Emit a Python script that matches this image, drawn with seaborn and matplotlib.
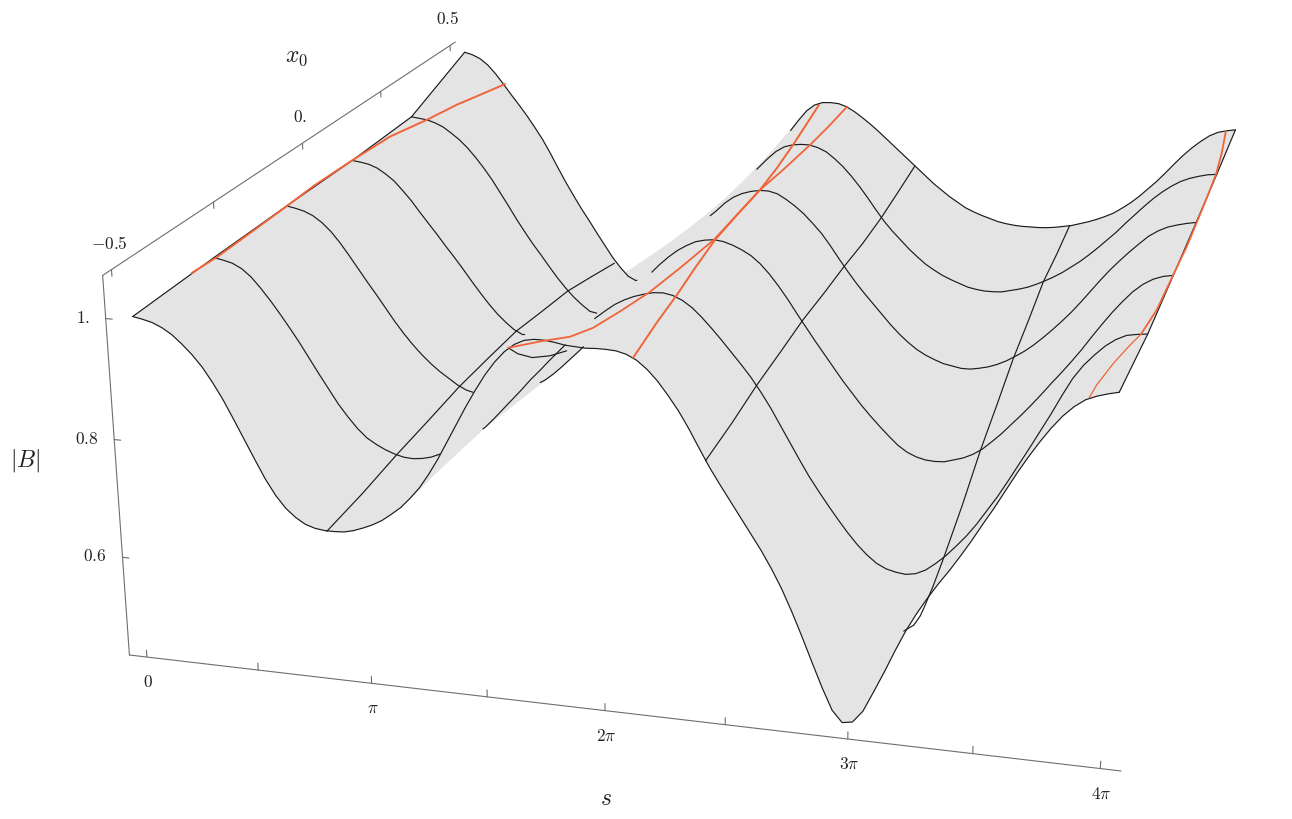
import numpy as np
import matplotlib
matplotlib.use('Agg')
import matplotlib.pyplot as plt
from mpl_toolkits.mplot3d import proj3d
import seaborn as sns

x0_mesh = [-0.5, -0.3, -0.1, 0.1, 0.3, 0.5]
s_grid = np.arange(97) * np.pi / 24
b_m05 = [596, 593, 589, 582, 572, 558, 542, 523, 499, 472, 441, 409, 377, 346, 320, 300, 286, 276, 271, 269, 269, 270, 274, 280, 287, 296, 308, 321, 338, 357, 381, 408, 438,
         468, 498, 526, 552, 574, 592, 605, 613, 616, 616, 614, 611, 610, 609, 610, 610, 609, 605, 597, 584, 567, 546, 523, 496, 466, 437, 411, 386, 361, 336, 311, 283, 252,
         216, 177, 136, 96, 60, 41, 44, 64, 98, 133, 170, 205, 235, 262, 287, 310, 335, 361, 389, 416, 445, 474, 501, 526, 549, 569, 585, 597, 604, 609, 613]
b_m03 = [599, 596, 592, 584, 571, 553, 533, 511, 488, 464, 438, 412, 387, 362, 341, 322, 307, 297, 289, 283, 279, 278, 280, 284, 291, 300, 311, 322, 333, 346, 363, 381, 399,
         417, 436, 453, 471, 488, 505, 520, 536, 551, 564, 576, 585, 592, 597, 601, 602, 599, 592, 581, 566, 549, 531, 512, 493, 473, 450, 425, 397, 369, 341, 314, 290, 267,
         245, 224, 205, 189, 176, 168, 164, 162, 165, 173, 186, 201, 219, 238, 260, 285, 310, 338, 367, 396, 426, 456, 488, 518, 541, 559, 575, 587, 595, 598, 600]
b_m01 = [600, 597, 593, 586, 575, 560, 541, 519, 496, 473, 451, 428, 405, 384, 365, 348, 333, 320, 309, 298, 290, 286, 288, 292, 295, 299, 303, 306, 312, 321, 334, 349, 365,
         381, 398, 417, 436, 455, 474, 493, 512, 530, 547, 562, 575, 585, 593, 597, 599, 597, 592, 585, 576, 563, 546, 526, 504, 480, 457, 434, 412, 390, 368, 348, 328, 310,
         293, 277, 262, 251, 244, 240, 239, 240, 245, 250, 258, 269, 284, 300, 318, 336, 355, 375, 396, 416, 437, 459, 483, 506, 528, 548, 566, 580, 590, 596, 599]
b_p01 = [599, 597, 594, 588, 578, 566, 549, 531, 510, 490, 470, 449, 429, 408, 386, 365, 345, 327, 312, 299, 291, 293, 303, 315, 327, 338, 350, 362, 374, 386, 398, 410, 422,
         433, 445, 457, 469, 481, 493, 505, 516, 528, 541, 555, 571, 583, 591, 596, 599, 599, 595, 586, 575, 562, 546, 529, 508, 485, 463, 442, 423, 405, 387, 369, 353, 339,
         327, 318, 311, 305, 302, 299, 299, 302, 306, 312, 320, 330, 341, 354, 369, 385, 402, 420, 440, 461, 482, 502, 520, 537, 553, 568, 579, 587, 592, 596, 599]
b_p03 = [603, 601, 599, 594, 587, 576, 564, 549, 531, 511, 489, 464, 439, 413, 389, 366, 345, 323, 302, 283, 266, 252, 240, 237, 247, 263, 279, 295, 311, 327, 343, 359, 375,
         391, 407, 423, 439, 455, 471, 487, 503, 520, 536, 553, 570, 585, 595, 600, 602, 602, 598, 591, 579, 565, 548, 529, 508, 486, 465, 447, 431, 415, 401, 388, 378, 369,
         362, 356, 350, 347, 345, 345, 346, 350, 354, 359, 366, 374, 383, 393, 405, 417, 431, 446, 462, 478, 496, 513, 530, 546, 560, 572, 582, 589, 594, 598, 600]
b_p05 = [658, 654, 647, 635, 618, 598, 577, 557, 536, 513, 489, 461, 431, 402, 375, 349, 325, 300, 276, 252, 232, 215, 207, 213, 228, 244, 260, 276, 292, 308, 324, 341, 358,
         375, 393, 410, 428, 445, 464, 482, 501, 521, 542, 564, 584, 597, 603, 604, 603, 598, 589, 578, 566, 553, 539, 525, 511, 497, 483, 469, 455, 443, 431, 421, 411, 404,
         398, 393, 388, 385, 383, 382, 382, 382, 383, 385, 388, 391, 396, 401, 407, 414, 422, 433, 445, 459, 475, 491, 509, 528, 546, 562, 576, 588, 596, 600, 603]
b_rows = [b_m05, b_m03, b_m01, b_p01, b_p03, b_p05]

# parts of each x0 line not hidden by the surface, as s ranges
visible = [
    [(0.0, 4 * np.pi)],
    [(0.0, 3.14), (3.76, 4.94), (5.35, 4 * np.pi)],
    [(0.0, 2.72), (3.73, 4.38), (5.39, 4 * np.pi)],
    [(0.0, 2.65), (5.54, 4 * np.pi)],
    [(0.0, 2.99), (5.59, 4 * np.pi)],
    [(0.0, 2.90), (5.50, 4 * np.pi)],
]

# mesh lines of constant s
s_lines = [2.513, 5.027, 7.540, 10.053]
x0_steps = [-0.5, -0.4, -0.3, -0.2, -0.1, 0.0, 0.1, 0.2, 0.3, 0.4, 0.5]
sl_x0 = [x0_steps,
         [-0.5, -0.472, -0.428, -0.372, -0.317],
         x0_steps,
         [-0.5, -0.451, -0.419, -0.402, -0.355, -0.3, -0.2, -0.1, 0.0, 0.1, 0.2, 0.3, 0.4, 0.5]]
sl_b = [[0.668, 0.673, 0.682, 0.688, 0.695, 0.696, 0.696, 0.686, 0.677, 0.659, 0.640],
        [0.999, 0.975, 0.946, 0.920, 0.900],
        [0.847, 0.852, 0.861, 0.865, 0.870, 0.869, 0.870, 0.868, 0.871, 0.879, 0.888],
        [0.604, 0.581, 0.575, 0.576, 0.583, 0.597, 0.628, 0.666, 0.695, 0.726, 0.747, 0.771, 0.779, 0.791]]

# |B| = 1 contours
or_a_s = [0.019, 0.041, 0.026, 0.005, -0.010, -0.004, 0.122, 0.252, 0.388, 0.599, 0.684]
or_a_x = [-0.36, -0.3, -0.2, -0.1, -0.02, 0.1, 0.2, 0.3, 0.38, 0.46, 0.5]
or_a_b = [1.001, 1.000, 1.000, 1.000, 1.001, 0.999, 1.005, 0.999, 0.999, 0.999, 0.998]
or_b_s = [5.029, 5.268, 5.418, 5.565, 5.814, 6.098, 6.155, 6.282, 6.286, 6.314, 6.422, 6.439, 6.422]
or_b_x = [-0.5, -0.45, -0.4, -0.36, -0.33, -0.3, -0.2, -0.1, 0.1, 0.2, 0.3, 0.4, 0.5]
or_b_b = [0.999, 0.987, 0.970, 0.966, 0.981, 1.001, 0.995, 0.999, 1.000, 0.995, 1.002, 1.001, 0.998]
or_c_s = [6.633, 6.564, 6.467, 6.362, 6.297, 6.275, 6.286, 6.223, 6.157, 6.056, 5.964]
or_c_x = [-0.5, -0.4, -0.3, -0.2, -0.1, 0.0, 0.1, 0.2, 0.3, 0.4, 0.5]
or_c_b = [1.001, 1.005, 1.000, 0.997, 0.999, 0.998, 1.000, 0.998, 1.000, 0.998, 0.998]
or_d_s = [12.218, 12.230, 12.318, 12.415, 12.483, 12.517, 12.563, 12.588, 12.574, 12.567, 12.556, 12.499, 12.420]
or_d_x = [-0.5, -0.46, -0.4, -0.34, -0.3, -0.2, -0.1, 0.0, 0.1, 0.2, 0.3, 0.4, 0.5]
or_d_b = [1.001, 0.999, 1.002, 1.001, 0.999, 0.989, 0.999, 1.002, 0.999, 0.999, 1.000, 0.998, 0.998]

# axes ticks
s_ticks = [k * np.pi / 2 for k in range(9)]
s_tick_labels = {0: r'$0$', 2: r'$\pi$', 4: r'$2\pi$', 6: r'$3\pi$', 8: r'$4\pi$'}
x0_ticks = [-0.5, -0.25, 0.0, 0.25, 0.5]
x0_tick_labels = {0: r'$-0.5$', 2: r'$0.$', 4: r'$0.5$'}
b_ticks = [1.0, 0.8, 0.6]
b_tick_labels = [r'$1.$', r'$0.8$', r'$0.6$']

GRAY = '#e4e4e4'
BLACK = '#1c1c1c'
ORANGE = '#f0643a'
AXIS = '#6e6e6e'

sns.set_theme(style='white')
plt.rcParams['mathtext.fontset'] = 'cm'

s_lo, s_hi = -0.25, 4 * np.pi + 0.25
x_lo, x_hi = -0.52, 0.52
b_lo, b_hi = 0.43, 1.07

fig = plt.figure(figsize=(12.92, 8.19), dpi=100)
ax = fig.add_subplot(projection='3d', computed_zorder=False)
ax.set_position([67.0 / 1292, -202.7 / 819, 1305.8 / 1292, 1305.8 / 819])
ax.set_xlim(s_lo, s_hi, view_margin=0)
ax.set_ylim(x_lo, x_hi, view_margin=0)
ax.set_zlim(b_lo, b_hi, view_margin=0)
ax.view_init(elev=19.0845, azim=-75.1803, roll=-0.0052)
ax.set_proj_type('persp', focal_length=0.43741)
ax.set_box_aspect((1, 1.00054, 0.40037))
ax.set_axis_off()

# surface
b_grid = (np.array(b_rows) + 400) / 1000
S, X = np.meshgrid(s_grid, x0_mesh)
ax.plot_surface(S, X, b_grid, rstride=1, cstride=1, color=GRAY, shade=False,
                edgecolor=GRAY, linewidth=0.3, zorder=1)

mesh_kw = dict(color=BLACK, lw=0.85, zorder=2, solid_joinstyle='round')
contour_kw = dict(color=ORANGE, zorder=3, solid_joinstyle='round')

# x0 = const mesh lines
for x0, row, ranges in zip(x0_mesh, b_grid, visible):
    for lo, hi in ranges:
        keep = (s_grid > lo) & (s_grid < hi)
        ss = np.r_[lo, s_grid[keep], hi]
        ax.plot(ss, np.full(len(ss), x0), np.interp(ss, s_grid, row), **mesh_kw)

# s = const mesh lines
for s_val, xs, bs in zip(s_lines, sl_x0, sl_b):
    ax.plot(np.full(len(xs), s_val), xs, bs, **mesh_kw)

# surface edges at both ends of s
ax.plot(np.zeros(6), x0_mesh, b_grid[:, 0], **mesh_kw)
ax.plot(np.full(6, s_grid[-1]), x0_mesh, b_grid[:, -1], **mesh_kw)

# contours
ax.plot(or_a_s, or_a_x, or_a_b, lw=1.4, **contour_kw)
ax.plot(or_b_s, or_b_x, or_b_b, lw=1.3, **contour_kw)
ax.plot(or_c_s, or_c_x, or_c_b, lw=1.4, **contour_kw)
ax.plot(or_d_s[:5], or_d_x[:5], or_d_b[:5], lw=0.9, **contour_kw)
ax.plot(or_d_s[4:], or_d_x[4:], or_d_b[4:], lw=1.3, **contour_kw)

# box edges
axis_kw = dict(color=AXIS, lw=0.8, zorder=2)
ax.plot([s_lo, s_hi], [x_lo, x_lo], [b_lo, b_lo], **axis_kw)
ax.plot([s_lo, s_lo], [x_lo, x_hi], [b_hi, b_hi], **axis_kw)
ax.plot([s_lo, s_lo], [x_lo, x_lo], [b_lo, b_hi], **axis_kw)

M = ax.get_proj()


def tick_label(text, s, x, b, dx, dy, ha='center'):
    px, py, _ = proj3d.proj_transform(s, x, b, M)
    ax.annotate(text, xy=(px, py), xytext=(dx, dy), textcoords='offset pixels',
                ha=ha, va='center', fontsize=12.5, color='#222222', annotation_clip=False)


for i, s in enumerate(s_ticks):
    ax.plot([s, s], [x_lo, x_lo], [b_lo, b_lo + 0.012], **axis_kw)
    if i in s_tick_labels:
        tick_label(s_tick_labels[i], s, x_lo, b_lo, 1, -25)
for i, x in enumerate(x0_ticks):
    ax.plot([s_lo, s_lo], [x, x], [b_hi, b_hi - 0.011], **axis_kw)
    if i in x0_tick_labels:
        tick_label(x0_tick_labels[i], s_lo, x, b_hi, -2, 26)
for b, lab in zip(b_ticks, b_tick_labels):
    ax.plot([s_lo, s_lo + 0.09], [x_lo, x_lo], [b, b], **axis_kw)
    tick_label(lab, s_lo, x_lo, b, -16, 1, ha='right')

# axis titles
fig.text(297 / 1292, 1 - 56 / 819, r'$x_0$', fontsize=17, ha='center', va='center', color='#222222')
fig.text(25 / 1292, 1 - 460 / 819, r'$|B|$', fontsize=17, ha='center', va='center', color='#222222')
fig.text(606 / 1292, 1 - 798 / 819, r'$s$', fontsize=17, ha='center', va='center', color='#222222')

fig.savefig('out.png', dpi=100)
